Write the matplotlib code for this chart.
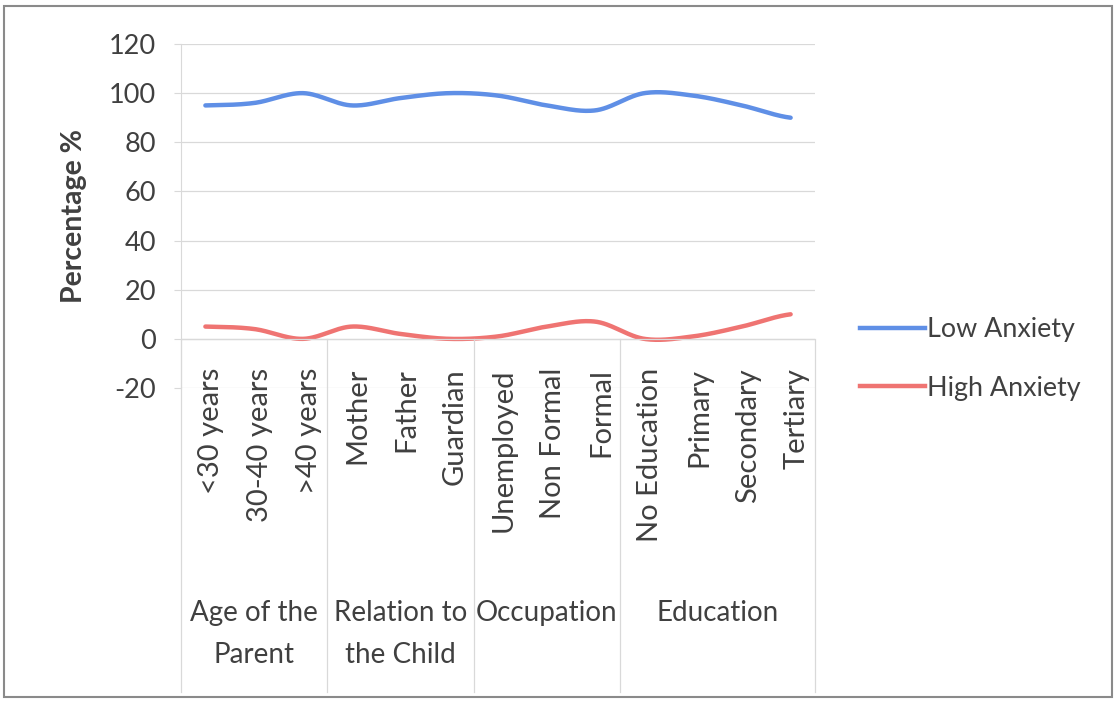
import numpy as np
import matplotlib.pyplot as plt
from matplotlib.lines import Line2D
from matplotlib.patches import Rectangle

categories = ["<30 years", "30-40 years", ">40 years",
              "Mother", "Father", "Guardian",
              "Unemployed", "Non Formal", "Formal",
              "No Education", "Primary", "Secondary", "Tertiary"]
groups = ["Age of the\nParent", "Relation to\nthe Child", "Occupation", "Education"]
group_sizes = [3, 3, 3, 4]

low_anxiety = [95, 96, 100, 95, 98, 100, 99, 95, 93, 100, 99, 95, 90]
high_anxiety = [5, 4, 0, 5, 2, 0, 1, 5, 7, 0, 1, 5, 10]

plt.rcParams['font.family'] = ['Lato', 'DejaVu Sans']
plt.rcParams['axes.unicode_minus'] = False
txt = '#404040'
grid_c = '#d9d9d9'
blue = '#5f8fe6'
red = '#ef7472'


def smooth(y, n=30):
    # Catmull-Rom spline through the points, like a spreadsheet "smoothed line"
    y = np.asarray(y, dtype=float)
    x = np.arange(len(y), dtype=float)
    p = np.concatenate([[y[0]], y, [y[-1]]])
    xs, ys = [], []
    for i in range(len(y) - 1):
        p0, p1, p2, p3 = p[i], p[i + 1], p[i + 2], p[i + 3]
        t = np.linspace(0, 1, n, endpoint=False)
        yy = 0.5 * ((2 * p1) + (-p0 + p2) * t + (2 * p0 - 5 * p1 + 4 * p2 - p3) * t ** 2
                    + (-p0 + 3 * p1 - 3 * p2 + p3) * t ** 3)
        xs.append(x[i] + t)
        ys.append(yy)
    xs.append([x[-1]])
    ys.append([y[-1]])
    return np.concatenate(xs), np.concatenate(ys)


fig = plt.figure(figsize=(11.17, 7.03), dpi=100)
ax = fig.add_axes([181 / 1117, 1 - 388 / 703, 634 / 1117, 344 / 703])

ax.plot(*smooth(low_anxiety), color=blue, lw=3.2, solid_capstyle='round')
ax.plot(*smooth(high_anxiety), color=red, lw=3.2, solid_capstyle='round')

ax.set_xlim(-0.5, len(categories) - 0.5)
ax.set_ylim(-20, 120)
ax.set_yticks(range(-20, 121, 20))
ax.yaxis.grid(True, color=grid_c, lw=0.9)
ax.set_axisbelow(True)
ax.set_xticks([])
for s in ['top', 'right', 'bottom']:
    ax.spines[s].set_visible(False)
ax.spines['left'].set_color(grid_c)
ax.tick_params(axis='y', length=5, color=grid_c, labelsize=19.5, labelcolor=txt, pad=13)
ax.set_ylabel("Percentage %", fontsize=20.5, fontweight='bold', color=txt, labelpad=16)

# horizontal category axis at zero
ax.axhline(0, color=grid_c, lw=0.9)

trans = ax.get_xaxis_transform()
for i, c in enumerate(categories):
    ax.text(i + 0.12, 0.058, c, rotation=90, ha='center', va='top', fontsize=21,
            color=txt, transform=trans)

# group labels and separators
y0 = 20 / 140
ybot = (388 - 692) / 344
start = 0
bounds = [-0.5]
for g, n in zip(groups, group_sizes):
    mid = start + (n - 1) / 2
    ax.text(mid, (388 - 600) / 344, g, ha='center', va='top', fontsize=20,
            color=txt, linespacing=1.75, transform=trans)
    start += n
    bounds.append(start - 0.5)
for b in bounds:
    ax.plot([b, b], [y0, ybot], color=grid_c, lw=0.9, transform=trans, clip_on=False)

handles = [Line2D([], [], color=blue, lw=3.2),
           Line2D([], [], color=red, lw=3.2)]
fig.legend(handles, ["Low Anxiety", "High Anxiety"], loc='center left',
           bbox_to_anchor=(860 / 1117, 1 - 359 / 703), frameon=False, fontsize=19.4,
           labelcolor=txt, handlelength=2.4, handletextpad=0.1, labelspacing=1.25,
           borderpad=0, borderaxespad=0)

# chart border
fig.patches.append(Rectangle((4 / 1117, 6 / 703), 1108 / 1117, 691 / 703,
                             transform=fig.transFigure, fill=False,
                             edgecolor='#8a8a8a', lw=1.5))

fig.savefig('out.png', dpi=100)
